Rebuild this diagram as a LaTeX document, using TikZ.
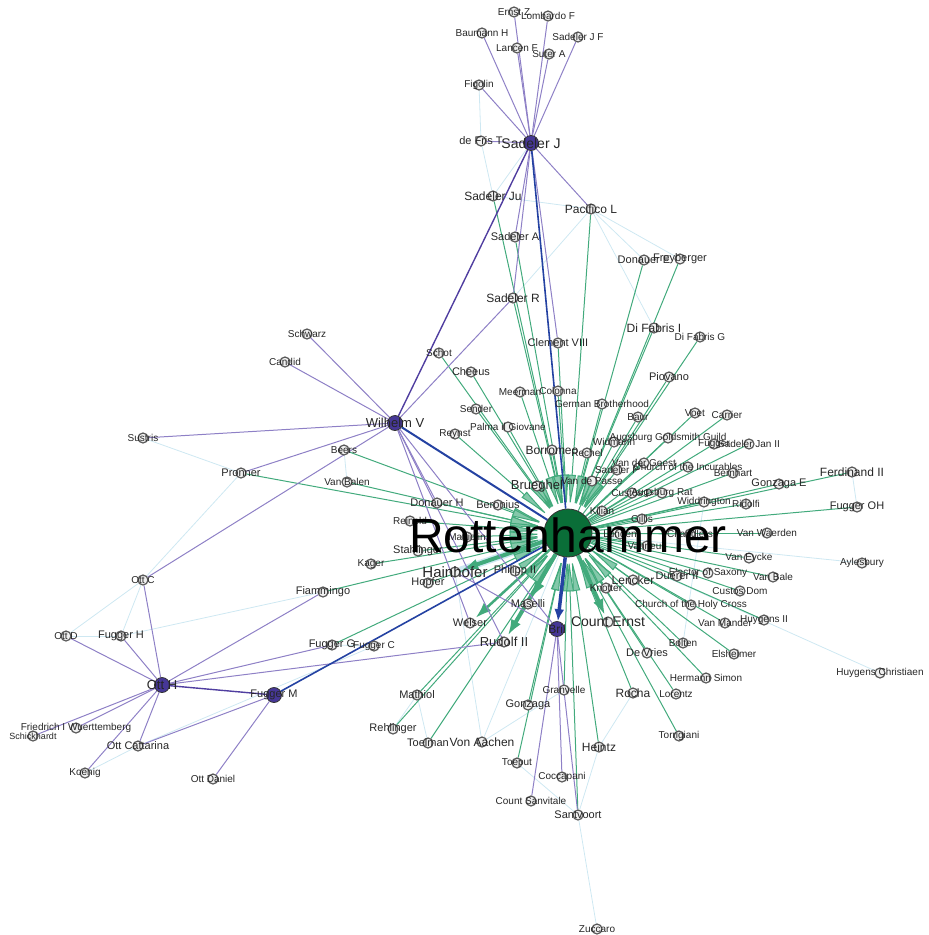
\documentclass[tikz,border=0pt]{standalone}
\usepackage{fontspec}
\setmainfont{Liberation Sans}
\usepackage{xcolor}
\usetikzlibrary{arrows.meta, backgrounds}

\definecolor{gline}{RGB}{66,170,124}
\definecolor{pline}{RGB}{142,128,198}
\definecolor{dpline}{RGB}{80,62,160}
\definecolor{bline}{RGB}{36,66,162}
\definecolor{cline}{RGB}{206,232,242}
\definecolor{hubfill}{RGB}{70,55,150}
\definecolor{rfill}{RGB}{10,110,56}

\begin{document}
\begin{tikzpicture}[x=1pt, y=-1pt]
\tikzstyle{person} = [circle, draw=black!65, fill=black!6, line width=1.2pt, minimum size=10pt, inner sep=0pt]
\tikzstyle{hub} = [circle, draw=black!80, fill=hubfill, line width=0.8pt, minimum size=15pt, inner sep=0pt]
\tikzstyle{f9} = [font=\fontsize{9}{9}\selectfont, text=black!85]
\tikzstyle{f10} = [font=\fontsize{10}{10}\selectfont, text=black!85]
\tikzstyle{f11} = [font=\fontsize{11}{11}\selectfont, text=black!85]
\tikzstyle{f12} = [font=\fontsize{12}{12}\selectfont, text=black!85]
\tikzstyle{f13} = [font=\fontsize{13}{13}\selectfont, text=black!85]
\tikzstyle{f14} = [font=\fontsize{14}{14}\selectfont, text=black!85]
\tikzstyle{f15} = [font=\fontsize{15}{15}\selectfont, text=black!85]
\tikzstyle{gedge} = [draw=gline, line width=1pt]
\tikzstyle{gin} = [gedge, {Latex[length=34pt,width=8pt,fill=gline!65]}-]
\tikzstyle{gbig} = [draw=gline, -{Latex[length=16pt,width=11pt]}, shorten >=2pt]
\tikzstyle{pedge} = [draw=pline, line width=1pt]
\tikzstyle{bedge} = [draw=bline, line width=1.6pt]
\tikzstyle{cedge} = [draw=cline, line width=0.8pt]

\useasboundingbox (0,0) rectangle (929,935);

% Sadeler J group
\node[hub, label={[f14]center:Sadeler J}] (sadj) at (531,143) {};
\node[person, label={[f10]center:Ernst Z}] (ernstz) at (514,12) {};
\node[person, label={[f10]center:Lombardo F}] (lombf) at (548,16) {};
\node[person, label={[f10]center:Baumann H}] (baumh) at (482,33) {};
\node[person, label={[f10]center:Lancen F}] (lancf) at (517,48) {};
\node[person, label={[f10]center:Sadeler J F}] (sadjf) at (578,37) {};
\node[person, label={[f10]center:Suter A}] (suta) at (549,54) {};
\node[person, label={[f10]center:Figolin}] (figo) at (479,85) {};
\node[person, label={[f11]center:de Fris T}] (defris) at (481,141) {};
\node[person, label={[f12]center:Sadeler Ju}] (sadju) at (493,196) {};
\node[person, label={[f12]center:Pacifico L}] (pacif) at (591,209) {};
\node[person, label={[f11]center:Sadeler A}] (sadea) at (515,237) {};
\node[person, label={[f11]center:Donauer E}] (donae) at (644,260) {};
\node[person, label={[f11]center:Freyberger}] (freyb) at (680,259) {};
\node[person, label={[f12]center:Sadeler R}] (sader) at (513,298) {};
\node[person, label={[f11]center:Clement VIII}] (clem) at (558,343) {};
\node[person, label={[f12]center:Di Fabris I}] (difi) at (654,328) {};
\node[person, label={[f10]center:Di Fabris G}] (difg) at (700,337) {};

% Wilhelm V group
\node[hub, label={[f13]center:Wilhelm V}] (wilh) at (395,423) {};
\node[person, label={[f10]center:Schwarz}] (schwarz) at (307,334) {};
\node[person, label={[f10]center:Candid}] (candid) at (285,362) {};
\node[person, label={[f10]center:Sustris}] (sustris) at (143,438) {};
\node[person, label={[f11]center:Pronner}] (pronner) at (241,473) {};
\node[person, label={[f10]center:Beers}] (beers) at (344,450) {};
\node[person, label={[f10]center:Van Balen}] (vbalen) at (347,482) {};
\node[person, label={[f10]center:Schot}] (schot) at (439,353) {};
\node[person, label={[f11]center:Cheeus}] (cheeus) at (471,372) {};
\node[person, label={[f10]center:Sender}] (sender) at (476,409) {};
\node[person, label={[f10]center:Reynst}] (reynst) at (455,434) {};
\node[person, label={[f11]center:Donauer H}] (donh) at (437,503) {};

% upper right
\node[person, label={[f11]center:Piovano}] (piov) at (669,377) {};
\node[person, label={[f10]center:Meerman}] (meer) at (520,392) {};
\node[person, label={[f10]center:Colonna}] (colon) at (558,391) {};
\node[person, label={[f10]center:German Brotherhood}] (germ) at (602,404) {};
\node[person, label={[f10]center:Baur}] (baur) at (638,417) {};
\node[person, label={[f10]center:Voet}] (voet) at (695,413) {};
\node[person, label={[f10]center:Carrier}] (carr) at (727,415) {};
\node[person, label={[f10]center:Palma il Giovane}] (palma) at (508,427) {};
\node[person, label={[f10]center:Widmann}] (widm) at (614,442) {};
\node[person, label={[f10]center:Augsburg Goldsmith Guild}] (augg) at (668,438) {};
\node[person, label={[f10]center:Fugger}] (fugg) at (714,444) {};
\node[person, label={[f10]center:Sadeler Jan II}] (sadjan) at (749,444) {};
\node[person, label={[f12]center:Borromeo}] (borr) at (552,450) {};
\node[person, label={[f10]center:Rechel}] (rechel) at (587,453) {};
\node[person, label={[f10]center:Van der Geest}] (vdgeest) at (644,463) {};
\node[person, label={[f10]center:Sadeler P}] (sadp) at (617,470) {};
\node[person, label={[f10]center:Church of the Incurables}] (incur) at (688,467) {};
\node[person, label={[f10]center:Bernhart}] (bernh) at (733,473) {};
\node[person, label={[f12]center:Ferdinand II}] (ferd) at (852,472) {};
\node[person, label={[f10]center:Van de Passe}] (vdpasse) at (592,481) {};
\node[person, label={[f11]center:Gonzaga E}] (gonze) at (779,484) {};
\node[person, label={[f13]center:Brueghel}] (brueg) at (537,486) {};
\node[person, label={[f10]center:Custos D}] (custd) at (632,493) {};
\node[person, label={[f10]center:Augsburg Rat}] (augrat) at (662,493) {};
\node[person, label={[f10]center:Widdrington}] (widd) at (704,502) {};
\node[person, label={[f10]center:Ridolfi}] (ridolfi) at (746,504) {};
\node[person, label={[f11]center:Beronius}] (beron) at (498,505) {};
\node[person, label={[f11]center:Fugger OH}] (fuggoh) at (857,507) {};
\node[person, label={[f10]center:Kilian}] (kilian) at (602,511) {};
\node[person, label={[f10]center:Gillis}] (gillis) at (642,519) {};
\node[person, label={[f10]center:Reinold}] (reinold) at (410,521) {};

% middle
\node[person, label={[f10]center:Van Waerden}] (vwaer) at (767,533) {};
\node[person, label={[f10]center:Mattiolin}] (matti) at (467,537) {};
\node[person, label={[f10]center:Lunden}] (lunden) at (620,534) {};
\node[person, label={[f10]center:Chandlers}] (chand) at (690,534) {};
\node[person, label={[f10]center:Vanneus}] (vanneus) at (647,546) {};
\node[person, label={[f11]center:Stahlinger}] (stahl) at (418,551) {};
\node[person, label={[f10]center:Van Eycke}] (vaneyck) at (749,558) {};
\node[person, label={[f10]center:Aylesbury}] (aylesb) at (862,563) {};
\node[person, label={[f10]center:Kager}] (kager) at (371,564) {};
\node[person, label={[f15]center:Hainhofer}] (hainh) at (455,572) {};
\node[person, label={[f11]center:Philipp II}] (philipp) at (515,571) {};
\node[person, label={[f10]center:Elector of Saxony}] (elector) at (708,573) {};
\node[person, label={[f11]center:Duerer II}] (duerer) at (677,576) {};
\node[person, label={[f10]center:Van Bale}] (vbale) at (773,577) {};
\node[person, label={[f12]center:Lencker}] (lencker) at (633,580) {};
\node[person, label={[f11]center:Hopfer}] (hopfer) at (428,583) {};
\node[person, label={[f10]center:Knotter}] (knotter) at (606,588) {};
\node[person, label={[f10]center:Custos Dom}] (custdom) at (740,591) {};
\node[person, label={[f11]center:Fiammingo}] (fiamm) at (323,592) {};
\node[person, label={[f11]center:Maselli}] (maselli) at (528,604) {};
\node[person, label={[f10]center:Church of the Holy Cross}] (holyc) at (691,605) {};
\node[person, label={[f10]center:Huygens II}] (huyg2) at (764,620) {};
\node[person, label={[f10]center:Van Mander}] (vmander) at (725,623) {};
\node[person, label={[f11]center:Welser}] (welser) at (470,623) {};
\node[person, label={[f14]center:Count Ernst}] (ernst) at (608,622) {};
\node[hub, label={[f12]center:Bril}] (bril) at (557,629) {};
\node[person, label={[f13]center:Rudolf II}] (rudolf) at (504,642) {};
\node[person, label={[f10]center:Bolten}] (bolten) at (683,643) {};
\node[person, label={[f11]center:Fugger G}] (fuggg) at (332,645) {};
\node[person, label={[f10]center:Fugger C}] (fuggc) at (374,646) {};
\node[person, label={[f11]center:De Vries}] (devries) at (647,653) {};
\node[person, label={[f10]center:Elsheimer}] (elsh) at (734,654) {};
\node[person, label={[f10]center:Huygens Christiaen}] (huygc) at (880,673) {};
\node[person, label={[f10]center:Hermann Simon}] (hsimon) at (706,678) {};

% lower part
\node[person, label={[f10]center:Granvelle}] (granv) at (564,690) {};
\node[person, label={[f12]center:Rocha}] (rocha) at (633,693) {};
\node[person, label={[f10]center:Lorentz}] (lorentz) at (676,694) {};
\node[person, label={[f11]center:Mathiol}] (mathiol) at (417,695) {};
\node[person, label={[f11]center:Gonzaga}] (gonz) at (528,705) {};
\node[person, label={[f11]center:Rehlinger}] (rehl) at (393,729) {};
\node[person, label={[f10]center:Torrigiani}] (torrig) at (679,736) {};
\node[person, label={[f11]center:Toelman}] (toelman) at (428,743) {};
\node[person, label={[f12]center:Von Aachen}] (vaachen) at (482,742) {};
\node[person, label={[f12]center:Heintz}] (heintz) at (599,747) {};
\node[person, label={[f10]center:Toeput}] (toeput) at (517,763) {};
\node[person, label={[f10]center:Coccapani}] (cocc) at (562,777) {};
\node[person, label={[f10]center:Count Sanvitale}] (sanvit) at (531,801) {};
\node[person, label={[f11]center:Santvoort}] (santv) at (578,815) {};
\node[person, label={[f10]center:Zuccaro}] (zucc) at (597,929) {};

% Ott H group
\node[hub, label={[f13]center:Ott H}] (otth) at (162,685) {};
\node[hub, label={[f11]center:Fugger M}] (fuggm) at (274,695) {};
\node[person, label={[f10]center:Ott C}] (ottc) at (143,580) {};
\node[person, label={[f10]center:Ott D}] (ottd) at (66,636) {};
\node[person, label={[f11]center:Fugger H}] (fuggh) at (121,636) {};
\node[person, label={[f10]center:Friedrich I Wuerttemberg}] (friedr) at (76,728) {};
\node[person, label={[f9]center:Schickhardt}] (schick) at (33,736) {};
\node[person, label={[f11]center:Ott Cattarina}] (ottcat) at (138,746) {};
\node[person, label={[f10]center:Koenig}] (koenig) at (85,773) {};
\node[person, label={[f10]center:Ott Daniel}] (ottdan) at (213,779) {};

% Rottenhammer
\node[circle, draw=black!80, fill=rfill, line width=0.8pt, minimum size=48pt, inner sep=0pt, label={[font=\fontsize{48}{48}\selectfont, text=black, yshift=-2pt]center:Rottenhammer}] (rott) at (568,533) {};

\begin{pgfonlayer}{background}
% faint links
\draw[cedge, line width=7pt] (rott) -- (hainh);
\draw[cedge] (sustris) -- (pronner);
\draw[cedge] (pronner) -- (ottc);
\draw[cedge] (ottc) -- (ottd);
\draw[cedge] (ottc) -- (fuggh);
\draw[cedge] (fuggh) -- (fiamm);
\draw[cedge] (ottd) -- (fuggh);
\draw[cedge] (ottcat) -- (koenig);
\draw[cedge] (ottcat) -- (fuggc);
\draw[cedge] (beers) -- (vbalen);
\draw[cedge] (ferd) -- (fuggoh);
\draw[cedge] (heintz) -- (santv);
\draw[cedge] (santv) -- (zucc);
\draw[cedge] (rocha) -- (heintz);
\draw[cedge] (rott) -- (vaachen);
\draw[cedge] (rott) -- (aylesb);
\draw[cedge] (rott) -- (huygc);
\draw[cedge] (sadj) -- (sadju);
\draw[cedge] (sadju) -- (pacif);
\draw[cedge] (defris) -- (sadju);
\draw[cedge] (figo) -- (defris);
\draw[cedge] (pacif) -- (donae);
\draw[cedge] (pacif) -- (difi);
\draw[cedge] (pacif) -- (freyb);
\draw[cedge] (sader) -- (pacif);
\draw[cedge] (rehl) -- (mathiol);
\draw[cedge] (mathiol) -- (toelman);
\draw[cedge] (vaachen) -- (hainh);
\draw[cedge] (vaachen) -- (granv);
\draw[cedge] (toeput) -- (santv);
\draw[cedge] (fuggg) -- (fuggc);
\draw[cedge] (widd) -- (bolten);

% links to Rottenhammer
\draw[gin] (rott) -- (sadju);
\draw[gin] (rott) -- (sadea);
\draw[gin] (rott) -- (sader);
\draw[gin] (rott) -- (pacif);
\draw[gin] (rott) -- (donae);
\draw[gin] (rott) -- (freyb);
\draw[gin] (rott) -- (difi);
\draw[gin] (rott) -- (difg);
\draw[gin] (rott) -- (clem);
\draw[gin] (rott) -- (schot);
\draw[gin] (rott) -- (cheeus);
\draw[gin] (rott) -- (sender);
\draw[gin] (rott) -- (reynst);
\draw[gin] (rott) -- (palma);
\draw[gin] (rott) -- (meer);
\draw[gin] (rott) -- (colon);
\draw[gin] (rott) -- (germ);
\draw[gin] (rott) -- (piov);
\draw[gin] (rott) -- (baur);
\draw[gedge] (rott) -- (voet);
\draw[gedge] (rott) -- (carr);
\draw[gin] (rott) -- (widm);
\draw[gedge] (rott) -- (augg);
\draw[gedge] (rott) -- (fugg);
\draw[gedge] (rott) -- (sadjan);
\draw[gin] (rott) -- (borr);
\draw[gin] (rott) -- (rechel);
\draw[gedge] (rott) -- (vdgeest);
\draw[gedge] (rott) -- (sadp);
\draw[gedge] (rott) -- (incur);
\draw[gedge] (rott) -- (bernh);
\draw[gedge] (rott) -- (gonze);
\draw[gedge] (rott) -- (ferd);
\draw[gedge] (rott) -- (vdpasse);
\draw[gedge] (rott) -- (custd);
\draw[gedge] (rott) -- (augrat);
\draw[gedge] (rott) -- (widd);
\draw[gedge] (rott) -- (ridolfi);
\draw[gedge] (rott) -- (fuggoh);
\draw[gedge] (rott) -- (kilian);
\draw[gedge] (rott) -- (gillis);
\draw[gedge] (rott) -- (vwaer);
\draw[gin] (rott) -- (brueg);
\draw[gin] (rott) -- (beron);
\draw[gin] (rott) -- (beers);
\draw[gin] (rott) -- (vbalen);
\draw[gin] (rott) -- (pronner);
\draw[gin] (rott) -- (donh);
\draw[gin] (rott) -- (reinold);
\draw[gin] (rott) -- (matti);
\draw[gin] (rott) -- (stahl);
\draw[gin] (rott) -- (kager);
\draw[gin] (rott) -- (hopfer);
\draw[gin] (rott) -- (philipp);
\draw[gin] (rott) -- (fiamm);
\draw[gin] (rott) -- (fuggg);
\draw[gin] (rott) -- (mathiol);
\draw[gin] (rott) -- (rehl);
\draw[gin] (rott) -- (toelman);
\draw[gin] (rott) -- (gonz);
\draw[gin] (rott) -- (granv);
\draw[gin] (rott) -- (toeput);
\draw[gin] (rott) -- (heintz);
\draw[gin] (rott) -- (santv);
\draw[gin] (rott) -- (rocha);
\draw[gin] (rott) -- (lorentz);
\draw[gin] (rott) -- (torrig);
\draw[gin] (rott) -- (hsimon);
\draw[gin] (rott) -- (devries);
\draw[gedge] (rott) -- (bolten);
\draw[gedge] (rott) -- (elsh);
\draw[gedge] (rott) -- (vmander);
\draw[gedge] (rott) -- (huyg2);
\draw[gedge] (rott) -- (holyc);
\draw[gedge] (rott) -- (custdom);
\draw[gedge] (rott) -- (vbale);
\draw[gedge] (rott) -- (vaneyck);
\draw[gedge] (rott) -- (elector);
\draw[gedge] (rott) -- (duerer);
\draw[gin] (rott) -- (lencker);
\draw[gin] (rott) -- (knotter);
\draw[gedge] (rott) -- (vanneus);
\draw[gedge] (rott) -- (lunden);
\draw[gedge] (rott) -- (chand);
\draw[gbig, line width=4pt] (rott) -- (hainh);
\draw[gbig, line width=4pt] (rott) -- (rudolf);
\draw[gbig, line width=4pt] (rott) -- (ernst);
\draw[gbig, line width=2.5pt] (rott) -- (welser);
\draw[gbig, line width=3pt] (rott) -- (maselli);

% Sadeler J links
\draw[pedge] (sadj) -- (ernstz);
\draw[pedge] (sadj) -- (lombf);
\draw[pedge] (sadj) -- (baumh);
\draw[pedge] (sadj) -- (lancf);
\draw[pedge] (sadj) -- (sadjf);
\draw[pedge] (sadj) -- (suta);
\draw[pedge] (sadj) -- (figo);
\draw[pedge] (sadj) -- (defris);
\draw[pedge] (sadj) -- (sadea);
\draw[pedge] (sadj) -- (sader);
\draw[pedge] (sadj) -- (pacif);
\draw[pedge] (sadj) -- (clem);
\draw[pedge, draw=dpline, line width=1.4pt] (sadj) -- (wilh);

% Wilhelm V links
\draw[pedge] (sader) -- (wilh);
\draw[pedge] (wilh) -- (schwarz);
\draw[pedge] (wilh) -- (candid);
\draw[pedge] (wilh) -- (sustris);
\draw[pedge] (wilh) -- (pronner);
\draw[pedge] (wilh) -- (ottc);
\draw[pedge] (wilh) -- (donh);
\draw[pedge] (wilh) -- (welser);
\draw[pedge] (wilh) -- (rudolf);
\draw[pedge] (wilh) -- (bril);
\draw[pedge] (hainh) -- (bril);

% Ott H links
\draw[pedge] (otth) -- (ottc);
\draw[pedge] (otth) -- (ottd);
\draw[pedge] (otth) -- (fuggh);
\draw[pedge] (otth) -- (fiamm);
\draw[pedge] (otth) -- (fuggg);
\draw[pedge] (otth) -- (rudolf);
\draw[pedge] (otth) -- (friedr);
\draw[pedge] (otth) -- (schick);
\draw[pedge] (otth) -- (ottcat);
\draw[pedge] (otth) -- (koenig);
\draw[pedge, draw=dpline, line width=1.4pt] (otth) -- (fuggm);
\draw[pedge] (fuggm) -- (ottcat);
\draw[pedge] (fuggm) -- (ottdan);

% Bril links
\draw[pedge] (bril) -- (sanvit);
\draw[pedge] (bril) -- (cocc);
\draw[pedge] (bril) -- (santv);

% strong links
\draw[bedge] (sadj) -- (rott);
\draw[bedge, line width=2pt] (wilh) -- (rott);
\draw[bedge] (fuggm) -- (rott);
\draw[bedge, line width=3.5pt, -{Latex[length=12pt,width=10pt]}] (rott) -- (bril);
\end{pgfonlayer}
\end{tikzpicture}
\end{document}
